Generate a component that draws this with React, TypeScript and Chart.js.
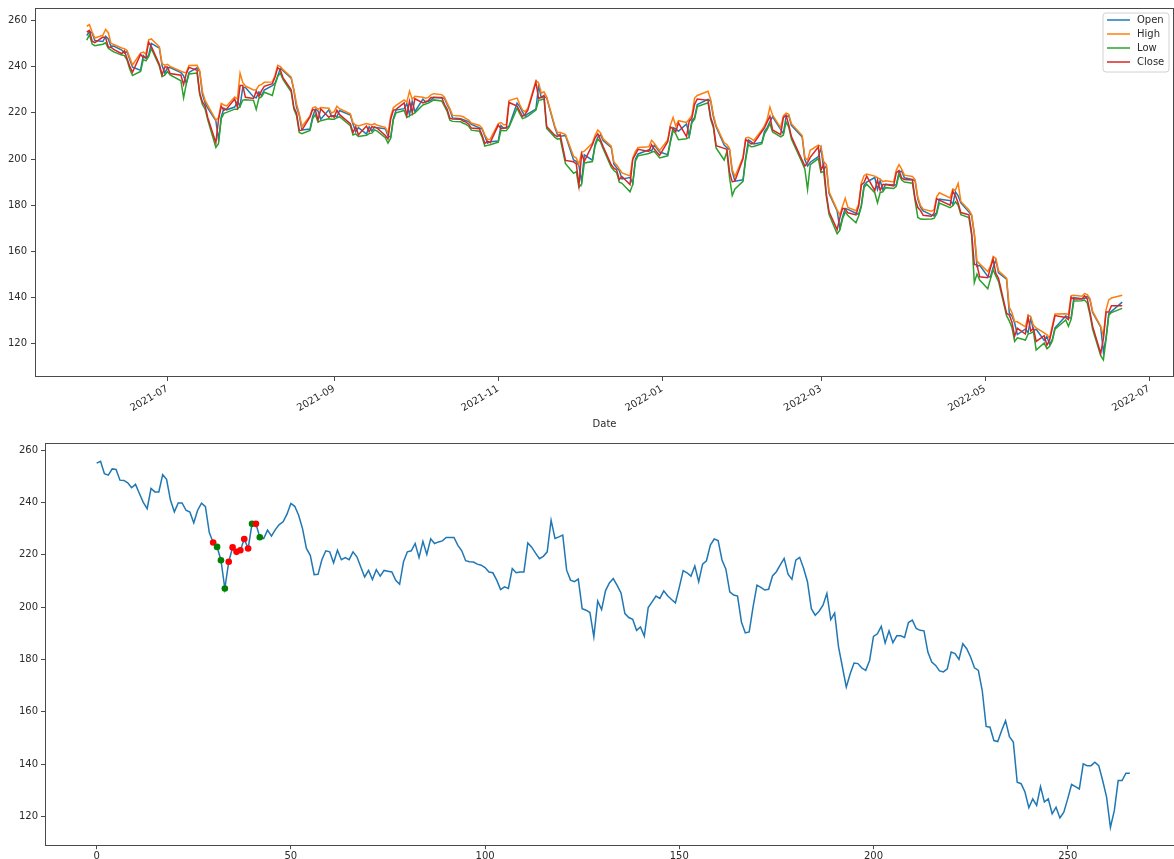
import React, { useEffect, useRef } from "react";
import { Chart, registerables } from "chart.js";

Chart.register(...registerables);

// ---------------- data ----------------
const START_DATE = "2021-06-01";
const HOLIDAYS = [
  "2021-07-05", "2021-09-06", "2021-11-25", "2021-12-24", "2022-01-17",
  "2022-02-21", "2022-04-15", "2022-05-30", "2022-06-20",
];

const CLOSE = [
  255.0, 255.7, 251.0, 250.4, 252.8, 252.6, 248.5, 248.4, 247.5, 245.6,
  246.9, 243.4, 240.0, 237.6, 245.3, 244.0, 244.0, 250.6, 248.8, 240.9,
  236.4, 239.8, 239.8, 237.0, 236.3, 232.2, 237.0, 239.7, 238.4, 228.5,
  224.7, 223.0, 217.9, 207.1, 217.3, 222.8, 221.1, 221.7, 226.0, 222.4,
  231.8, 231.8, 226.7, 226.2, 229.4, 227.1, 229.6, 231.5, 232.6, 235.5,
  239.6, 238.5, 235.1, 230.0, 222.4, 219.8, 212.4, 212.5, 218.2, 221.5,
  221.1, 216.9, 221.7, 218.1, 218.9, 218.1, 221.1, 219.2, 215.3, 211.5,
  214.0, 210.5, 214.3, 211.8, 214.0, 213.7, 213.4, 210.2, 208.7, 217.3,
  221.1, 221.5, 224.3, 218.9, 225.1, 220.1, 226.1, 224.3, 224.9, 225.3,
  226.6, 226.6, 226.6, 223.6, 221.5, 217.7, 217.3, 217.2, 216.4, 216.0,
  215.1, 213.4, 213.1, 210.3, 206.7, 207.7, 207.1, 214.7, 213.1, 213.4,
  213.4, 224.5, 222.9, 220.6, 218.5, 219.4, 221.1, 233.2, 226.2, 226.8,
  227.5, 214.1, 210.3, 209.7, 210.7, 199.4, 198.8, 197.9, 188.6, 202.3,
  199.0, 206.2, 209.2, 210.9, 208.3, 205.4, 197.5, 196.0, 195.3, 191.1,
  192.4, 188.9, 199.8, 202.0, 204.2, 203.3, 206.2, 204.3, 202.9, 201.6,
  207.5, 213.9, 213.1, 211.8, 215.7, 209.7, 216.4, 217.7, 223.7, 226.0,
  225.4, 218.0, 214.5, 205.8, 204.6, 204.2, 194.3, 190.1, 190.5, 200.1,
  208.4, 207.5, 206.5, 206.8, 211.9, 213.5, 216.1, 218.6, 212.6, 210.6,
  217.9, 219.0, 214.8, 209.7, 199.4, 196.9, 198.4, 200.7, 205.2, 195.2,
  197.7, 184.8, 177.1, 169.4, 174.5, 178.6, 178.4, 176.7, 175.8, 179.6,
  188.8, 189.8, 192.6, 186.3, 190.9, 186.4, 189.0, 189.0, 188.4, 194.1,
  195.0, 191.8, 191.1, 190.9, 182.8, 179.0, 177.7, 175.6, 175.2, 176.4,
  182.8, 182.2, 180.0, 186.0, 184.1, 180.9, 176.8, 175.8, 168.1, 154.4,
  154.1, 149.0, 148.6, 152.8, 156.6, 150.5, 148.4, 133.1, 132.5, 129.3,
  123.3, 126.7, 124.2, 131.4, 125.5, 126.7, 121.0, 123.5, 119.4, 121.6,
  126.7, 132.2, 131.4, 130.5, 140.1, 139.4, 139.4, 140.7, 139.4, 133.7,
  127.5, 115.8, 122.2, 133.7, 133.7, 136.5, 136.5,
];

const OPEN = [
  253.5, 255.2, 254.6, 251.3, 250.9, 253.2, 252.0, 248.8, 248.9, 247.2,
  245.9, 246.5, 243.0, 239.8, 238.5, 244.8, 243.6, 244.9, 250.1, 248.0,
  240.5, 237.2, 239.5, 239.6, 237.4, 236.0, 232.8, 237.5, 239.5, 237.8,
  228.0, 224.3, 222.0, 216.5, 208.2, 218.2, 222.0, 221.3, 222.5, 225.0,
  223.0, 231.0, 231.0, 226.9, 226.5, 229.0, 227.5, 229.9, 231.8, 232.8,
  236.0, 239.3, 238.2, 235.0, 229.7, 222.4, 219.0, 212.6, 213.0, 218.4,
  221.6, 220.8, 217.2, 221.3, 218.4, 218.8, 218.3, 221.0, 219.0, 215.0,
  211.8, 213.6, 210.8, 214.0, 212.1, 213.9, 213.5, 213.1, 210.0, 209.5,
  217.6, 221.2, 221.8, 224.0, 219.2, 225.0, 220.5, 226.0, 224.6, 225.0,
  225.5, 226.7, 226.4, 226.3, 223.5, 221.3, 217.8, 217.4, 217.0, 216.6,
  216.2, 215.0, 213.5, 213.0, 210.0, 206.9, 207.5, 207.8, 214.5, 213.3,
  213.6, 214.2, 224.2, 222.7, 220.4, 218.6, 219.6, 221.6, 231.8, 226.5,
  227.0, 226.5, 213.8, 210.5, 209.9, 210.2, 199.6, 199.0, 197.0, 190.0,
  201.8, 199.5, 206.4, 209.5, 210.5, 208.0, 205.0, 197.8, 196.2, 195.0,
  191.4, 192.0, 189.5, 199.9, 202.2, 204.0, 203.5, 206.0, 204.5, 203.0,
  201.9, 207.8, 213.6, 213.0, 212.0, 215.2, 210.0, 216.6, 217.9, 223.6,
  225.8, 225.0, 218.2, 214.0, 206.0, 204.9, 204.0, 194.6, 190.4, 191.0,
  200.6, 208.2, 207.5, 206.5, 207.2, 212.0, 213.6, 216.2, 218.3, 212.8,
  211.0, 218.2, 218.8, 214.6, 209.5, 199.7, 197.0, 198.6, 201.0, 204.8,
  195.5, 197.0, 185.0, 177.5, 170.0, 174.8, 178.6, 178.2, 176.5, 176.0,
  180.0, 188.6, 190.0, 192.0, 186.8, 190.6, 186.6, 189.1, 188.8, 188.8,
  194.3, 194.8, 191.9, 191.2, 190.5, 182.6, 179.2, 177.5, 175.8, 175.4,
  176.8, 182.6, 182.0, 180.4, 185.8, 184.0, 181.0, 177.0, 175.5, 167.5,
  153.5, 154.0, 149.2, 148.9, 153.0, 156.3, 150.7, 148.0, 133.4, 132.0,
  129.0, 124.0, 126.4, 124.8, 131.0, 125.8, 126.3, 121.4, 123.2, 119.7,
  121.8, 126.9, 132.0, 131.4, 131.0, 140.0, 139.5, 139.6, 140.6, 139.0,
  133.5, 127.2, 116.5, 122.6, 133.0, 134.0, 138.0,
];

const HIGH = [
  257.5, 258.2, 255.0, 252.4, 253.6, 256.1, 254.7, 250.1, 249.6, 248.1,
  247.8, 247.0, 243.9, 240.7, 245.9, 246.3, 245.4, 251.6, 252.0, 248.6,
  241.3, 240.6, 241.0, 240.1, 238.0, 237.6, 237.5, 240.5, 240.6, 238.2,
  229.3, 225.4, 223.2, 216.9, 217.9, 224.1, 223.4, 223.0, 226.9, 226.0,
  237.2, 233.2, 231.6, 229.9, 230.0, 231.8, 232.3, 233.2, 233.4, 236.2,
  240.6, 240.0, 238.7, 235.5, 230.2, 223.9, 219.6, 214.1, 218.7, 222.2,
  222.6, 221.5, 222.3, 222.0, 219.9, 220.5, 222.9, 221.8, 219.6, 215.7,
  214.7, 214.3, 215.4, 215.1, 214.8, 215.3, 214.6, 213.7, 211.1, 218.4,
  222.2, 223.2, 225.6, 224.6, 229.4, 225.9, 227.2, 226.8, 226.3, 226.7,
  227.8, 228.3, 227.9, 226.8, 224.2, 221.9, 218.9, 218.6, 218.3, 217.5,
  216.9, 215.6, 214.5, 213.4, 210.5, 208.5, 208.6, 215.3, 215.8, 214.8,
  214.9, 225.3, 226.4, 223.6, 221.2, 220.5, 222.0, 234.0, 233.0, 228.5,
  229.1, 226.8, 214.4, 211.4, 211.6, 210.6, 201.2, 200.4, 197.8, 202.9,
  203.4, 206.9, 210.3, 212.6, 211.4, 208.8, 205.6, 198.7, 197.4, 195.7,
  194.0, 192.7, 200.4, 203.3, 205.0, 205.3, 208.1, 206.8, 205.2, 203.7,
  208.3, 214.6, 218.0, 214.3, 216.6, 215.8, 217.3, 218.9, 226.4, 227.5,
  229.3, 225.6, 219.1, 214.5, 207.0, 206.3, 204.5, 195.3, 192.4, 200.8,
  209.1, 209.4, 208.8, 208.0, 212.6, 214.5, 217.2, 222.5, 219.0, 213.6,
  218.7, 219.9, 219.4, 215.3, 210.2, 200.6, 199.5, 203.8, 206.0, 205.4,
  198.8, 197.6, 185.8, 178.0, 175.8, 179.5, 183.0, 179.0, 177.6, 180.5,
  189.6, 192.8, 193.5, 192.6, 191.9, 191.3, 190.2, 190.6, 190.1, 195.2,
  197.6, 195.6, 193.0, 192.4, 191.0, 183.4, 179.9, 178.3, 177.4, 178.0,
  183.6, 185.4, 183.1, 187.0, 186.6, 189.5, 181.6, 177.9, 176.0, 168.0,
  155.8, 154.6, 151.3, 153.6, 157.8, 156.9, 151.6, 148.4, 135.9, 133.5,
  129.6, 129.5, 127.3, 132.4, 131.7, 128.0, 126.9, 124.7, 123.9, 122.5,
  127.8, 132.9, 133.0, 132.7, 140.8, 141.0, 140.6, 141.7, 141.3, 139.6,
  134.0, 127.6, 123.4, 134.8, 139.0, 139.8, 141.0,
];

const LOW = [
  251.5, 253.8, 249.8, 249.1, 249.7, 250.3, 248.0, 247.2, 246.4, 245.0,
  244.8, 242.8, 238.9, 236.2, 237.9, 243.1, 242.5, 244.3, 247.9, 240.2,
  235.7, 236.3, 237.9, 236.4, 233.9, 226.5, 232.5, 236.8, 237.2, 227.9,
  223.6, 221.6, 216.9, 205.0, 206.8, 217.5, 219.8, 220.2, 221.6, 221.6,
  222.8, 225.5, 225.7, 225.4, 221.5, 226.3, 227.0, 228.9, 227.5, 232.1,
  235.8, 237.2, 234.4, 229.1, 221.6, 218.8, 211.5, 211.0, 212.4, 217.5,
  219.2, 216.0, 216.6, 217.4, 217.2, 217.2, 217.9, 218.3, 214.4, 210.4,
  210.9, 209.8, 210.3, 211.0, 211.2, 212.6, 212.1, 209.2, 206.9, 209.0,
  217.0, 220.0, 221.0, 218.0, 218.7, 219.3, 220.0, 223.4, 223.8, 224.2,
  224.9, 225.6, 225.1, 222.9, 220.6, 216.8, 216.3, 216.1, 215.5, 215.0,
  214.2, 212.5, 212.0, 209.4, 205.6, 205.9, 206.2, 207.3, 212.4, 212.2,
  212.3, 213.8, 222.0, 219.6, 217.5, 217.9, 218.6, 221.2, 225.4, 225.7,
  226.1, 213.3, 209.5, 208.6, 208.9, 198.0, 193.8, 194.5, 187.8, 189.2,
  198.3, 198.9, 205.7, 208.7, 207.4, 204.5, 196.5, 195.0, 194.1, 190.0,
  189.5, 185.8, 189.0, 199.1, 201.4, 202.4, 202.9, 203.3, 201.9, 200.5,
  201.4, 207.2, 212.3, 210.9, 208.4, 208.8, 209.5, 215.8, 217.3, 222.7,
  224.4, 217.1, 213.5, 204.8, 199.6, 203.2, 192.0, 184.2, 187.0, 190.3,
  200.0, 206.2, 205.3, 205.4, 206.6, 210.9, 212.8, 215.4, 211.7, 209.6,
  210.4, 216.1, 213.9, 208.7, 198.4, 195.6, 186.8, 197.6, 200.2, 194.2,
  194.6, 183.6, 175.9, 167.6, 169.2, 174.0, 177.1, 175.5, 172.4, 175.3,
  179.4, 187.6, 189.1, 185.4, 181.0, 185.5, 185.8, 187.6, 187.2, 188.2,
  193.4, 190.9, 190.0, 189.5, 181.9, 174.7, 174.0, 173.9, 174.0, 174.3,
  176.2, 180.9, 178.9, 179.8, 181.5, 180.0, 175.9, 174.6, 167.0, 146.5,
  150.2, 147.6, 143.8, 148.0, 152.1, 149.4, 147.0, 132.1, 129.9, 127.0,
  121.0, 122.6, 121.6, 124.2, 124.6, 125.2, 117.3, 120.3, 117.8, 118.9,
  121.2, 126.3, 130.3, 127.6, 130.6, 138.5, 138.6, 138.9, 137.6, 132.6,
  126.3, 114.8, 113.0, 122.0, 132.4, 133.5, 135.3,
];

const MARKER_IDX = [30, 31, 32, 33, 34, 35, 36, 37, 38, 39, 40, 41, 42];
const MARKER_COLORS = [
  "red", "green", "green", "green", "red", "red", "red",
  "red", "red", "red", "green", "red", "green",
];

const DATE_TICKS = ["2021-07", "2021-09", "2021-11", "2022-01", "2022-03", "2022-05", "2022-07"];
const PRICE_TICKS = [120, 140, 160, 180, 200, 220, 240, 260];
const INDEX_TICKS = [0, 50, 100, 150, 200, 250];

// ---------------- helpers ----------------
const FONT = "'DejaVu Sans', 'Liberation Sans', sans-serif";
const AXIS_COLOR = "#4a4a4a";
const TEXT_COLOR = "#2b2b2b";
const DAY = 86400000;

function dayNum(s: string): number {
  const [y, m, d] = s.split("-").map(Number);
  return Date.UTC(y, m - 1, d || 1) / DAY;
}

function tradingDates(start: string, n: number, holidays: string[]): string[] {
  const hs = new Set(holidays);
  const out: string[] = [];
  let t = dayNum(start) * DAY;
  while (out.length < n) {
    const d = new Date(t);
    const wd = d.getUTCDay();
    const s = d.toISOString().slice(0, 10);
    if (wd !== 0 && wd !== 6 && !hs.has(s)) out.push(s);
    t += DAY;
  }
  return out;
}

const framePlugin = {
  id: "frame",
  afterDatasetsDraw(chart: any) {
    const { ctx, chartArea: a } = chart;
    ctx.save();
    ctx.strokeStyle = AXIS_COLOR;
    ctx.lineWidth = 1;
    const l = Math.round(a.left) + 0.5;
    const t = Math.round(a.top) + 0.5;
    const r = Math.round(a.right) - 0.5;
    const b = Math.round(a.bottom) - 0.5;
    ctx.strokeRect(l, t, r - l, b - t);
    ctx.restore();
  },
};

const legendPlugin = {
  id: "mplLegend",
  afterDraw(chart: any) {
    const { ctx, chartArea: a } = chart;
    const ds = chart.data.datasets;
    const rowH = 14;
    const w = 66;
    const right = a.right - 5;
    const left = right - w;
    const top = a.top + 5;
    const h = ds.length * rowH + 3;
    ctx.save();
    ctx.beginPath();
    const r = 3;
    ctx.moveTo(left + r, top);
    ctx.lineTo(right - r, top);
    ctx.quadraticCurveTo(right, top, right, top + r);
    ctx.lineTo(right, top + h - r);
    ctx.quadraticCurveTo(right, top + h, right - r, top + h);
    ctx.lineTo(left + r, top + h);
    ctx.quadraticCurveTo(left, top + h, left, top + h - r);
    ctx.lineTo(left, top + r);
    ctx.quadraticCurveTo(left, top, left + r, top);
    ctx.closePath();
    ctx.fillStyle = "rgba(255,255,255,0.85)";
    ctx.fill();
    ctx.strokeStyle = "#d2d2d2";
    ctx.lineWidth = 1;
    ctx.stroke();
    ctx.font = `10px ${FONT}`;
    ctx.textBaseline = "middle";
    ctx.textAlign = "left";
    ds.forEach((d: any, i: number) => {
      const y = top + 7 + rowH * i;
      ctx.strokeStyle = d.borderColor;
      ctx.lineWidth = 1.5;
      ctx.beginPath();
      ctx.moveTo(left + 4, y);
      ctx.lineTo(left + 27, y);
      ctx.stroke();
      ctx.fillStyle = TEXT_COLOR;
      ctx.fillText(d.label, left + 34, y);
    });
    ctx.restore();
  },
};

function yAxis(min: number, max: number, width: number, pad: number) {
  return {
    type: "linear",
    position: "left",
    min,
    max,
    afterFit: (s: any) => {
      s.width = width;
      s.paddingTop = 0;
      s.paddingBottom = 0;
    },
    afterBuildTicks: (s: any) => {
      s.ticks = PRICE_TICKS.map((v) => ({ value: v }));
    },
    grid: { display: true, drawOnChartArea: false, drawTicks: true, tickLength: 4, color: AXIS_COLOR, lineWidth: 1 },
    border: { display: false },
    ticks: {
      padding: pad,
      color: TEXT_COLOR,
      font: { family: FONT, size: 10 },
      callback: (v: any) => String(v),
    },
  };
}

export default function App() {
  const topRef = useRef<HTMLCanvasElement>(null);
  const botRef = useRef<HTMLCanvasElement>(null);

  useEffect(() => {
    const dates = tradingDates(START_DATE, CLOSE.length, HOLIDAYS);
    const xs = dates.map(dayNum);
    const first = xs[0];
    const last = xs[xs.length - 1];
    const span = last - first;

    const series = (vals: number[]) => vals.map((v, i) => ({ x: xs[i], y: v }));
    const lineDs = (label: string, color: string, vals: number[], order: number) => ({
      label,
      data: series(vals),
      borderColor: color,
      backgroundColor: color,
      borderWidth: 1.5,
      pointRadius: 0,
      tension: 0,
      fill: false,
      order,
    });

    const top = new Chart(topRef.current as HTMLCanvasElement, {
      type: "line",
      data: {
        datasets: [
          lineDs("Open", "#1f77b4", OPEN, 3),
          lineDs("High", "#ff7f0e", HIGH, 2),
          lineDs("Low", "#2ca02c", LOW, 1),
          lineDs("Close", "#d62728", CLOSE, 0),
        ],
      },
      options: {
        animation: false,
        responsive: false,
        events: [],
        layout: { padding: { top: 8, right: 6, left: 0, bottom: 0 } },
        plugins: { legend: { display: false }, tooltip: { enabled: false }, title: { display: false } },
        scales: {
          x: {
            type: "linear",
            position: "bottom",
            min: first - 0.05 * span,
            max: last + 0.05 * span,
            afterFit: (s: any) => {
              s.height = 55;
              s.paddingLeft = 0;
              s.paddingRight = 0;
            },
            afterBuildTicks: (s: any) => {
              s.ticks = DATE_TICKS.map((d) => ({ value: dayNum(d + "-01") }));
            },
            grid: { display: true, drawOnChartArea: false, drawTicks: true, tickLength: 4, color: AXIS_COLOR, lineWidth: 1 },
            border: { display: false },
            ticks: {
              autoSkip: false,
              minRotation: 30,
              maxRotation: 30,
              padding: 2,
              color: TEXT_COLOR,
              font: { family: FONT, size: 10 },
              callback: (_v: any, i: number) => DATE_TICKS[i],
            },
            title: {
              display: true,
              text: "Date",
              color: TEXT_COLOR,
              font: { family: FONT, size: 10 },
              padding: { top: 0, bottom: 2 },
            },
          },
          y: yAxis(105.6, 265.4, 35, 4),
        },
      } as any,
      plugins: [framePlugin, legendPlugin],
    });

    const markerData = MARKER_IDX.map((i) => ({ x: i, y: CLOSE[i] }));
    const bottom = new Chart(botRef.current as HTMLCanvasElement, {
      type: "line",
      data: {
        datasets: [
          {
            label: "markers",
            data: markerData,
            showLine: false,
            pointRadius: 3.3,
            pointBorderWidth: 0,
            pointBackgroundColor: MARKER_COLORS,
            pointBorderColor: MARKER_COLORS,
            order: 0,
          },
          {
            label: "Close",
            data: CLOSE.map((v, i) => ({ x: i, y: v })),
            borderColor: "#1f77b4",
            borderWidth: 1.5,
            pointRadius: 0,
            tension: 0,
            fill: false,
            order: 1,
          },
        ],
      },
      options: {
        animation: false,
        responsive: false,
        events: [],
        layout: { padding: { top: 13, right: 8.5, left: 0, bottom: 0 } },
        plugins: { legend: { display: false }, tooltip: { enabled: false }, title: { display: false } },
        scales: {
          x: {
            type: "linear",
            position: "bottom",
            min: -0.05 * (CLOSE.length - 1),
            max: (CLOSE.length - 1) * 1.05,
            afterFit: (s: any) => {
              s.height = 34.3;
              s.paddingLeft = 0;
              s.paddingRight = 0;
            },
            afterBuildTicks: (s: any) => {
              s.ticks = INDEX_TICKS.map((v) => ({ value: v }));
            },
            grid: { display: true, drawOnChartArea: false, drawTicks: true, tickLength: 3.5, color: AXIS_COLOR, lineWidth: 1 },
            border: { display: false },
            ticks: {
              autoSkip: false,
              maxRotation: 0,
              padding: 1,
              color: TEXT_COLOR,
              font: { family: FONT, size: 10 },
              callback: (v: any) => String(v),
            },
          },
          y: yAxis(108.8, 262.7, 45, 3),
        },
      } as any,
      plugins: [framePlugin],
    });

    return () => {
      top.destroy();
      bottom.destroy();
    };
  }, []);

  return (
    <div
      style={{
        position: "fixed",
        left: 0,
        top: 0,
        width: 1174,
        height: 859,
        overflow: "hidden",
        background: "#ffffff",
      }}
    >
      <canvas ref={topRef} width={1180} height={432} style={{ position: "absolute", left: 0, top: 0 }} />
      <canvas ref={botRef} width={1190} height={450} style={{ position: "absolute", left: 0, top: 430 }} />
    </div>
  );
}
